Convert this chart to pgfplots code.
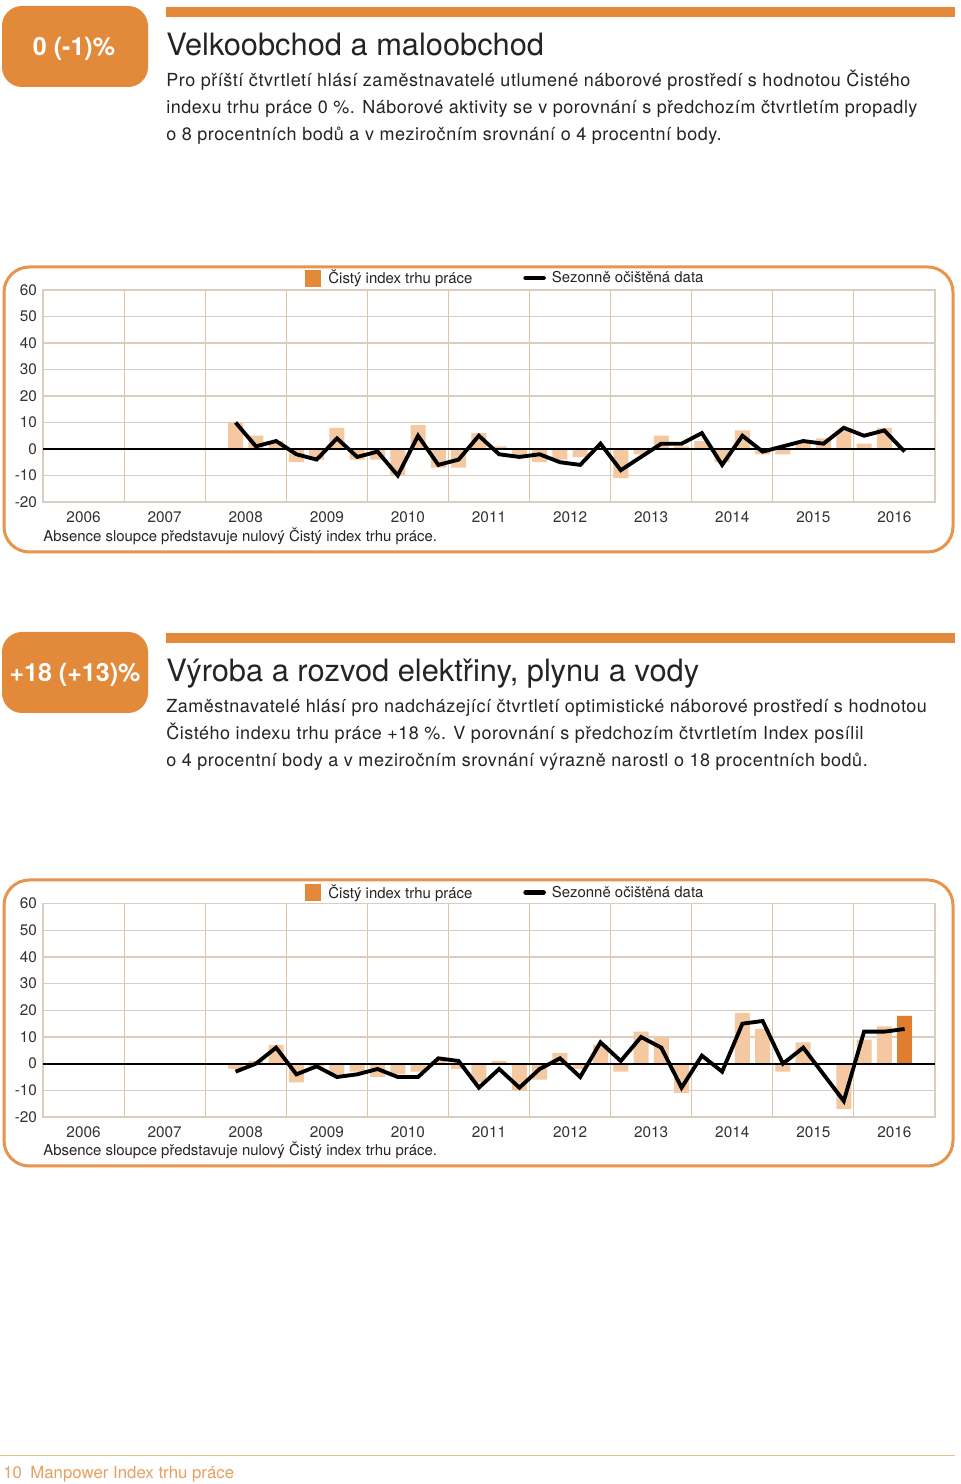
\documentclass[border=0pt]{standalone}
\usepackage{pgfplots}
\usepackage{pgfplotstable}
\pgfplotsset{compat=1.18}
\usepackage{fontspec}
\setmainfont{TeX Gyre Heros}
\newfontfamily\bodyfont{TeX Gyre Heros}[LetterSpace=3]
\definecolor{orng}{HTML}{E3893A}
\definecolor{frameC}{HTML}{E8944C}
\definecolor{barL}{HTML}{F4C8A0}
\definecolor{barD}{HTML}{E07D2E}
\definecolor{gridV}{HTML}{DCC6A2}
\definecolor{gridH}{HTML}{D8CDBF}
\definecolor{txt}{HTML}{262324}
\definecolor{tick}{HTML}{333333}
\definecolor{foot}{HTML}{E8A060}
\definecolor{footline}{HTML}{EDB88A}

\pgfplotstableread{
q b l
9 10 10
10 5 1
11 3 3
12 -5 -2
13 -4 -4
14 8 4
15 -4 -3
16 -4 -1
17 -10 -10
18 9 5
19 -7 -6
20 -7 -4
21 6 5
22 1 -2
23 -3 -3
24 -5 -2
25 -4 -5
26 -3 -6
27 0 2
28 -11 -8
29 -2 -3
30 5 2
31 1 2
32 3 6
33 -5 -6
34 7 5
35 -2 -1
36 -2 1
37 3 3
38 4 2
39 7 8
40 2 5
41 8 7
42 0 -1
}\dataA
\pgfplotstableread{
q b
42 0
}\curA

\pgfplotstableread{
q b l
9 -2 -3
10 1 0
11 7 6
12 -7 -4
13 -1 -1
14 -4 -5
15 -3 -4
16 -5 -2
17 -4 -5
18 -3 -5
19 1 2
20 -2 1
21 -7 -9
22 1 -2
23 -10 -9
24 -6 -2
25 4 2
26 -2 -5
27 7 8
28 -3 1
29 12 10
30 10 6
31 -11 -9
32 0 3
33 0 -3
34 19 15
35 13 16
36 -3 0
37 8 6
38 0 -4
39 -17 -14
40 9 12
41 14 12
42 18 13
}\dataB
\pgfplotstableread{
q b
42 18
}\curB

\pgfplotsset{
  mychart/.style={
    scale only axis, width=669pt, height=159pt,
    xmin=-0.5, xmax=43.5, ymin=-20, ymax=60,
    xtick={1.5,5.5,9.5,13.5,17.5,21.5,25.5,29.5,33.5,37.5,41.5},
    xticklabels={2006,2007,2008,2009,2010,2011,2012,2013,2014,2015,2016},
    minor xtick={3.5,7.5,11.5,15.5,19.5,23.5,27.5,31.5,35.5,39.5},
    ytick={-20,-10,0,10,20,30,40,50,60},
    xminorgrids, ymajorgrids,
    major grid style={gridH, line width=0.8pt},
    minor grid style={gridV, line width=0.8pt},
    axis line style={gridH, line width=0.8pt},
    major tick length=0pt, minor tick length=0pt,
    tick style={draw=none},
    /pgf/number format/assume math mode=true,
    ticklabel style={font=\fontsize{11.5}{12}\selectfont, text=tick},
    yticklabel style={xshift=-1pt},
    xticklabel style={yshift=-3.5pt},
    legend columns=2,
    legend style={draw=none, fill=none, inner sep=0pt, anchor=west,
      font=\fontsize{11.2}{12}\selectfont, text=txt,
      /tikz/every even column/.append style={column sep=36.25pt}},
  },
  bars/.style={ybar, bar width=0.74, bar shift=0pt, draw=none, forget plot},
  sline/.style={black, line width=2.9pt, no markers, forget plot},
  legsq/.style={legend image code/.code={\fill[orng] (0pt,-6pt) rectangle (11.25pt,6pt); \path (15pt,0pt);}},
  legln/.style={legend image code/.code={\draw[black, line width=3.4pt, line cap=round] (1.5pt,0pt) -- (15pt,0pt); \path (19pt,0pt);}},
}

\begin{document}
\begin{tikzpicture}
\path[use as bounding box, fill=white] (0,0) rectangle (720pt,1113pt);

\begin{scope}[x=0.75pt, y=-0.75pt, shift={(0pt,1113pt)}]
  % ---------- header 1
  \fill[orng, rounded corners=15pt] (2,6) rectangle (148,87);
  \node[anchor=base, inner sep=0pt, text=white, font=\bfseries\fontsize{18.8}{20}\selectfont] at (74,56) {0 (-1)\%};
  \fill[orng] (166,7) rectangle (955,17);
  \node[anchor=base west, inner sep=0pt, text=txt, font=\fontsize{23.1}{25}\selectfont] at (166,56) {Velkoobchod a maloobchod};
  \begin{scope}[every node/.style={anchor=base west, inner sep=0pt, text=txt, font=\bodyfont\fontsize{13.5}{15}\selectfont}]
    \node at (166,87) {Pro příští čtvrtletí hlásí zaměstnavatelé utlumené náborové prostředí s hodnotou Čistého};
    \node at (166,114) {indexu trhu práce 0 \%. Náborové aktivity se v porovnání s předchozím čtvrtletím propadly};
    \node at (166,141) {o 8 procentních bodů a v meziročním srovnání o 4 procentní body.};
  \end{scope}
  \draw[frameC, line width=2.25pt, rounded corners=19pt] (4,267) rectangle (953,552);
  \node[anchor=base west, inner sep=0pt, text=txt, font=\fontsize{11.2}{12}\selectfont] at (43,542) {Absence sloupce představuje nulový Čistý index trhu práce.};

  % ---------- header 2
  \fill[orng, rounded corners=15pt] (2,632) rectangle (148,713);
  \node[anchor=base, inner sep=0pt, text=white, font=\bfseries\fontsize{18.8}{20}\selectfont] at (75,682) {+18 (+13)\%};
  \fill[orng] (166,633) rectangle (955,643);
  \node[anchor=base west, inner sep=0pt, text=txt, font=\fontsize{23.1}{25}\selectfont] at (166,682) {Výroba a rozvod elektřiny, plynu a vody};
  \begin{scope}[every node/.style={anchor=base west, inner sep=0pt, text=txt, font=\bodyfont\fontsize{13.5}{15}\selectfont}]
    \node at (166,713) {Zaměstnavatelé hlásí pro nadcházející čtvrtletí optimistické náborové prostředí s hodnotou};
    \node at (166,740) {Čistého indexu trhu práce +18 \%. V porovnání s předchozím čtvrtletím Index posílil};
    \node at (166,767) {o 4 procentní body a v meziročním srovnání výrazně narostl o 18 procentních bodů.};
  \end{scope}
  \draw[frameC, line width=2.25pt, rounded corners=19pt] (4,880) rectangle (953,1166);
  \node[anchor=base west, inner sep=0pt, text=txt, font=\fontsize{11.2}{12}\selectfont] at (43,1156) {Absence sloupce představuje nulový Čistý index trhu práce.};

  % ---------- footer
  \draw[footline, line width=0.75pt] (0,1456) -- (955,1456);
  \node[anchor=base west, inner sep=0pt, text=foot, font=\fontsize{12.6}{14}\selectfont] at (3,1479) {10\hspace{0.5em}Manpower Index trhu práce};
\end{scope}

% ---------- chart 1
\begin{axis}[mychart, at={(32.25pt,736.5pt)}, anchor=south west,
  legend style={at={(0.2937,1.057)}}]
  \addlegendimage{legsq}
  \addlegendentry{Čistý index trhu práce}
  \addlegendimage{legln}
  \addlegendentry{Sezonně očištěná data}
  \addplot[bars, fill=barL] table[x=q, y=b] {\dataA};
  \addplot[bars, fill=barD] table[x=q, y=b] {\curA};
  \addplot[black, line width=1.5pt, forget plot] coordinates {(-0.5,0) (43.5,0)};
  \addplot[sline] table[x=q, y=l] {\dataA};
\end{axis}

% ---------- chart 2
\begin{axis}[mychart, height=160pt, at={(32.25pt,275.25pt)}, anchor=south west,
  legend style={at={(0.2937,1.052)}}]
  \addlegendimage{legsq}
  \addlegendentry{Čistý index trhu práce}
  \addlegendimage{legln}
  \addlegendentry{Sezonně očištěná data}
  \addplot[bars, fill=barL] table[x=q, y=b] {\dataB};
  \addplot[bars, fill=barD] table[x=q, y=b] {\curB};
  \addplot[black, line width=1.5pt, forget plot] coordinates {(-0.5,0) (43.5,0)};
  \addplot[sline] table[x=q, y=l] {\dataB};
\end{axis}
\end{tikzpicture}
\end{document}
